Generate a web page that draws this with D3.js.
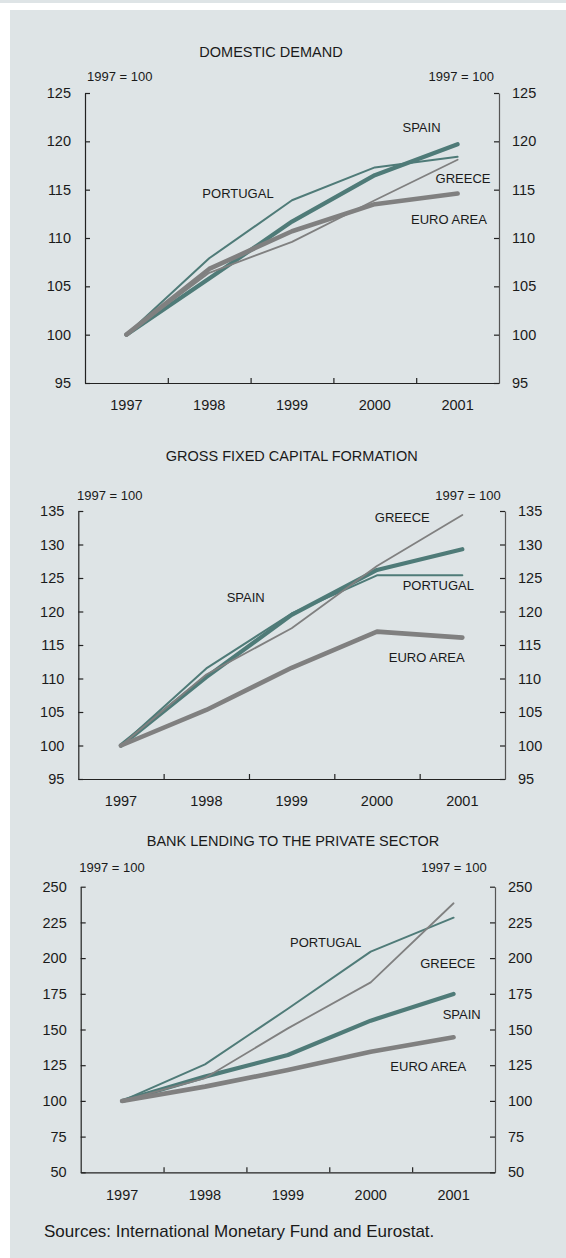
<!DOCTYPE html>
<html>
<head>
<meta charset="utf-8">
<script src="https://cdn.jsdelivr.net/npm/d3@7"></script>
<style>
  html, body { margin: 0; padding: 0; background: #ffffff; }
  svg { display: block; }
  text { font-family: "Liberation Sans", Arial, sans-serif; fill: #1a1a1a; }
</style>
</head>
<body>
<svg id="chart" width="566" height="1258"></svg>
<script>
// ---------- DATA ----------
const years = ["1997", "1998", "1999", "2000", "2001"];

// Domestic demand (1997 = 100)
const ddPortugal = [100, 107.9, 113.9, 117.3, 118.4];
const ddSpain    = [100, 105.8, 111.7, 116.5, 119.7];
const ddGreece   = [100, 106.4, 109.6, 113.9, 118.1];
const ddEuro     = [100, 106.8, 110.7, 113.5, 114.6];
const ddTicks    = [95, 100, 105, 110, 115, 120, 125];

// Gross fixed capital formation (1997 = 100)
const gfPortugal = [100, 111.5, 119.7, 125.4, 125.4];
const gfSpain    = [100, 110.2, 119.5, 126.2, 129.3];
const gfGreece   = [100, 110.6, 117.5, 126.8, 134.4];
const gfEuro     = [100, 105.3, 111.6, 117.0, 116.1];
const gfTicks    = [95, 100, 105, 110, 115, 120, 125, 130, 135];

// Bank lending to the private sector (1997 = 100)
const blPortugal = [100, 125.6, 164.5, 204.5, 228.3];
const blSpain    = [100, 117.0, 132.1, 156.2, 174.9];
const blGreece   = [100, 116.0, 150.8, 183.0, 238.4];
const blEuro     = [100, 110.0, 121.6, 134.4, 144.5];
const blTicks    = [50, 75, 100, 125, 150, 175, 200, 225, 250];

const seriesNames = ["PORTUGAL", "SPAIN", "GREECE", "EURO AREA"];
const titles = ["DOMESTIC DEMAND", "GROSS FIXED CAPITAL FORMATION", "BANK LENDING TO THE PRIVATE SECTOR"];
const unitLabel = "1997 = 100";
const sourceText = "Sources: International Monetary Fund and Eurostat.";

// ---------- STYLE ----------
const TEAL = "#4f7b78";
const GREY = "#808080";
const styles = {
  "PORTUGAL":  { color: TEAL, width: 2 },
  "SPAIN":     { color: TEAL, width: 4.2 },
  "GREECE":    { color: GREY, width: 1.8 },
  "EURO AREA": { color: GREY, width: 4.6 }
};

const svg = d3.select("#chart");

// page background
svg.append("rect").attr("x", 0).attr("y", 0).attr("width", 566).attr("height", 3).attr("fill", "#dee4e6");
svg.append("rect").attr("x", 10).attr("y", 10).attr("width", 556).attr("height", 1248).attr("fill", "#dee4e6");

const panels = [
  {
    title: titles[0], titleX: 271, titleY: 52,
    left: 85, right: 499, top: 93, bottom: 383,
    domain: [95, 125], ticks: ddTicks,
    unitLeftX: 87, unitRightX: 494, unitY: 76,
    series: [ddPortugal, ddSpain, ddGreece, ddEuro],
    labels: {
      "PORTUGAL":  [238, 193],
      "SPAIN":     [421.5, 127.7],
      "GREECE":    [463, 178],
      "EURO AREA": [449, 219]
    }
  },
  {
    title: titles[1], titleX: 291.7, titleY: 456,
    left: 78.3, right: 505, top: 511, bottom: 779,
    domain: [95, 135], ticks: gfTicks,
    unitLeftX: 77, unitRightX: 500.7, unitY: 495,
    series: [gfPortugal, gfSpain, gfGreece, gfEuro],
    labels: {
      "PORTUGAL":  [438.3, 585.7],
      "SPAIN":     [245.7, 597.3],
      "GREECE":    [402.3, 517.3],
      "EURO AREA": [426.7, 657.3]
    }
  },
  {
    title: titles[2], titleX: 293, titleY: 840.7,
    left: 80.7, right: 495, top: 886.7, bottom: 1172.3,
    domain: [50, 250], ticks: blTicks,
    unitLeftX: 79.3, unitRightX: 486.7, unitY: 867.7,
    series: [blPortugal, blSpain, blGreece, blEuro],
    labels: {
      "PORTUGAL":  [325.7, 942.7],
      "SPAIN":     [461.7, 1014.3],
      "GREECE":    [447.7, 963.3],
      "EURO AREA": [428.3, 1066.7]
    }
  }
];

panels.forEach(p => {
  const g = svg.append("g");

  const xBand = d3.scaleBand().domain(years).range([p.left, p.right]).padding(0);
  const xPt = d => xBand(d) + xBand.bandwidth() / 2;
  const y = d3.scaleLinear().domain(p.domain).range([p.bottom, p.top]);

  // title
  g.append("text").attr("x", p.titleX).attr("y", p.titleY)
    .attr("text-anchor", "middle").attr("dominant-baseline", "central")
    .style("font-size", "14.5px").text(p.title);

  // unit labels
  g.append("text").attr("x", p.unitLeftX).attr("y", p.unitY)
    .attr("dominant-baseline", "central").style("font-size", "13px").text(unitLabel);
  g.append("text").attr("x", p.unitRightX).attr("y", p.unitY)
    .attr("text-anchor", "end").attr("dominant-baseline", "central")
    .style("font-size", "13px").text(unitLabel);

  // left axis (ticks inward)
  const leftAxis = d3.axisLeft(y).tickValues(p.ticks).tickSizeInner(-5).tickSizeOuter(0).tickPadding(14);
  const gl = g.append("g").attr("transform", `translate(${p.left},0)`).call(leftAxis);
  // right axis (ticks inward)
  const rightAxis = d3.axisRight(y).tickValues(p.ticks).tickSizeInner(-5).tickSizeOuter(0).tickPadding(13);
  const gr = g.append("g").attr("transform", `translate(${p.right},0)`).call(rightAxis);
  // bottom axis: boundaries between years, ticks inward
  const xb = d3.scaleLinear().domain([0, years.length]).range([p.left, p.right]);
  const bottomAxis = d3.axisBottom(xb).tickValues(d3.range(1, years.length)).tickSizeInner(-5).tickSizeOuter(0).tickFormat("");
  const gb = g.append("g").attr("transform", `translate(0,${p.bottom})`).call(bottomAxis);
  // year labels
  const yearAxis = d3.axisBottom(xBand).tickSize(0).tickPadding(17);
  const gy = g.append("g").attr("transform", `translate(0,${p.bottom})`).call(yearAxis);
  gy.select(".domain").remove();

  [gl, gr, gb, gy].forEach(a => {
    a.selectAll(".domain").attr("stroke", "#222").attr("stroke-width", 1.2);
    a.selectAll(".tick line").attr("stroke", "#222").attr("stroke-width", 1.2);
    a.selectAll(".tick text").style("font-size", "14.5px").style("font-family", "'Liberation Sans', Arial, sans-serif").attr("fill", "#1a1a1a");
  });
  gr.selectAll(".domain").attr("stroke", "#555");

  // lines
  const line = d3.line().x((d, i) => xPt(years[i])).y(d => y(d));
  p.series.forEach((vals, i) => {
    const st = styles[seriesNames[i]];
    g.append("path").datum(vals).attr("d", line)
      .attr("fill", "none").attr("stroke", st.color).attr("stroke-width", st.width)
      .attr("stroke-linecap", "round").attr("stroke-linejoin", "round");
  });

  // series labels
  seriesNames.forEach(n => {
    const pos = p.labels[n];
    g.append("text").attr("x", pos[0]).attr("y", pos[1])
      .attr("text-anchor", "middle").attr("dominant-baseline", "central")
      .style("font-size", "13px").text(n);
  });
});

svg.append("text").attr("x", 44).attr("y", 1231.7).attr("dominant-baseline", "central")
  .style("font-size", "17px").text(sourceText);
</script>
</body>
</html>
